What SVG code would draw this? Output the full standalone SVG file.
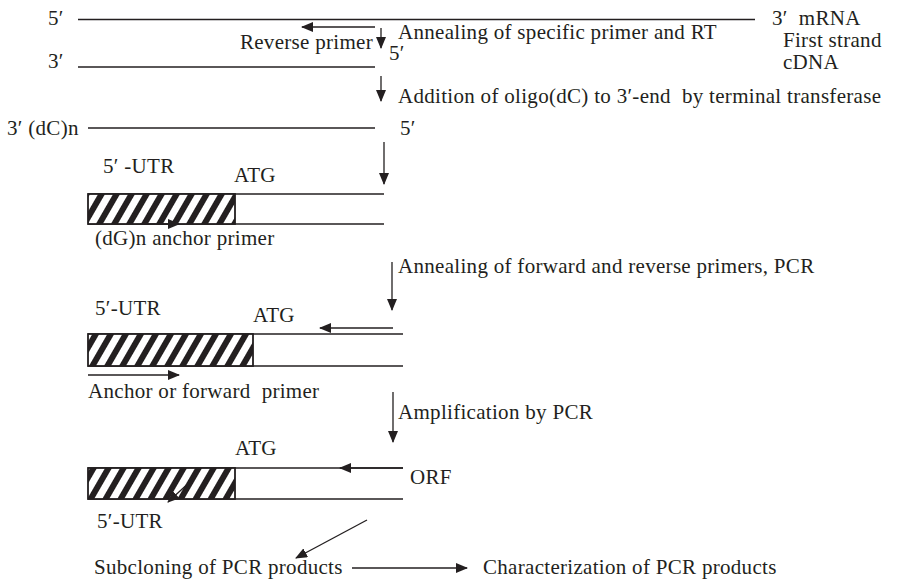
<svg xmlns="http://www.w3.org/2000/svg" width="901" height="582" viewBox="0 0 901 582">
  <defs>
    <style>
      text { font-family: "Liberation Serif", "Times New Roman", serif; font-size: 21px; letter-spacing: 0.3px; fill: #231f20; }
      .strand { stroke: #231f20; stroke-width: 1.4; fill: none; }
      .box { stroke: #231f20; stroke-width: 1.8; fill: url(#hatch); }
      .arrow { stroke: #231f20; stroke-width: 1.3; fill: none; marker-end: url(#head); }
    </style>
    <marker id="head" viewBox="0 0 12 10" refX="11" refY="5" markerWidth="12" markerHeight="10" markerUnits="userSpaceOnUse" orient="auto">
      <path d="M0,0 L12,5 L0,10 Z" fill="#231f20"/>
    </marker>
    <pattern id="hatch" width="13" height="13" patternUnits="userSpaceOnUse" patternTransform="rotate(30)">
      <rect width="13" height="13" fill="#fff"/>
      <rect x="0" y="0" width="6" height="13" fill="#231f20"/>
    </pattern>
  </defs>

  <!-- mRNA -->
  <g id="mrna">
    <line class="strand" x1="78" y1="19.5" x2="755" y2="19.5"/>
    <text x="48" y="25">5′</text>
    <text x="772" y="25" xml:space="preserve">3′  mRNA</text>
  </g>

  <!-- first strand cDNA -->
  <g id="first-strand">
    <line class="strand" x1="78" y1="67" x2="375" y2="67"/>
    <text x="48" y="68">3′</text>
    <text x="389" y="60">5′</text>
    <text x="783" y="47">First strand</text>
    <text x="783" y="69">cDNA</text>
  </g>

  <!-- dC-tailed cDNA -->
  <g id="tailed-cdna">
    <line class="strand" x1="88" y1="128" x2="375" y2="128"/>
    <text x="7" y="135">3′ (dC)n</text>
    <text x="400" y="135">5′</text>
  </g>

  <!-- anchored template -->
  <g id="template-1">
    <line class="strand" x1="88" y1="194" x2="384" y2="194"/>
    <line class="strand" x1="88" y1="224" x2="384" y2="224"/>
    <rect class="box" x="88" y="194" width="147" height="30"/>
    <text x="103" y="173">5′ -UTR</text>
    <text x="234" y="182">ATG</text>
    <text x="95" y="245">(dG)n anchor primer</text>
  </g>

  <!-- PCR template with both primers -->
  <g id="template-2">
    <line class="strand" x1="88" y1="334" x2="403" y2="334"/>
    <line class="strand" x1="88" y1="366" x2="403" y2="366"/>
    <rect class="box" x="88" y="334" width="165" height="32"/>
    <text x="95" y="315">5′-UTR</text>
    <text x="253" y="322">ATG</text>
    <text x="88" y="398" xml:space="preserve">Anchor or forward  primer</text>
  </g>

  <!-- amplified product -->
  <g id="template-3">
    <line class="strand" x1="88" y1="468" x2="403" y2="468"/>
    <line class="strand" x1="88" y1="499" x2="403" y2="499"/>
    <rect class="box" x="88" y="468" width="147" height="31"/>
    <text x="235" y="455">ATG</text>
    <text x="410" y="484">ORF</text>
    <text x="97" y="528">5′-UTR</text>
  </g>

  <g id="subcloning">
    <text x="94" y="574">Subcloning of PCR products</text>
  </g>
  <g id="characterization">
    <text x="483" y="574">Characterization of PCR products</text>
  </g>

  <!-- step labels -->
  <g id="labels">
    <text x="373" y="49" text-anchor="end">Reverse primer</text>
    <text x="398" y="39">Annealing of specific primer and RT</text>
    <text x="398" y="103" xml:space="preserve">Addition of oligo(dC) to 3′-end  by terminal transferase</text>
    <text x="398" y="273">Annealing of forward and reverse primers, PCR</text>
    <text x="398" y="419">Amplification by PCR</text>
  </g>

  <!-- connectors and primers -->
  <g id="connectors">
    <line class="arrow" x1="375" y1="27" x2="302" y2="27"/>
    <line class="arrow" x1="381" y1="28" x2="381" y2="48"/>
    <line class="arrow" x1="381" y1="76" x2="381" y2="101"/>
    <line class="arrow" x1="384" y1="142" x2="384" y2="184"/>
    <line class="arrow" x1="140" y1="224" x2="179" y2="224"/>
    <line class="arrow" x1="392" y1="262" x2="392" y2="310"/>
    <line class="arrow" x1="393" y1="328" x2="320" y2="328"/>
    <line class="arrow" x1="88" y1="375" x2="179" y2="375"/>
    <line class="arrow" x1="393" y1="392" x2="393" y2="442"/>
    <line class="arrow" x1="403" y1="468" x2="340" y2="468"/>
    <line class="arrow" x1="192" y1="480" x2="168" y2="502"/>
    <line class="arrow" x1="367" y1="520" x2="296" y2="558"/>
    <line class="arrow" x1="352" y1="568" x2="467" y2="568"/>
  </g>
</svg>
